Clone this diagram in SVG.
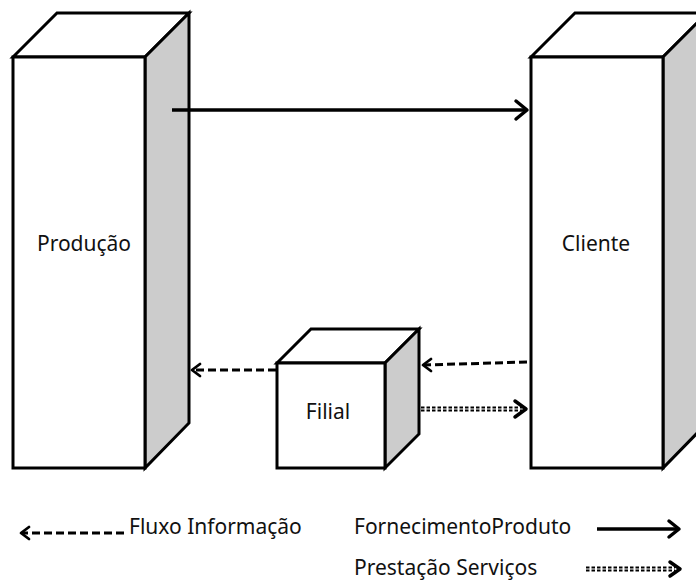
<svg xmlns="http://www.w3.org/2000/svg" width="696" height="582" viewBox="0 0 696 582">
<style>
.face{fill:#fff;stroke:#000;stroke-width:3;stroke-linejoin:miter}
.side{fill:#cccccc;stroke:#000;stroke-width:3;stroke-linejoin:miter}
.lbl{font-family:"Noto Sans","Open Sans","Liberation Sans",sans-serif;font-size:21px;fill:#111}
.solid{stroke:#000;stroke-width:3.5;fill:none}
.dash{stroke:#000;stroke-width:3;fill:none;stroke-dasharray:8,4}
.dotted{stroke:#000;stroke-width:5;fill:none;stroke-dasharray:3.5,2}
.dotgap{stroke:#fff;stroke-width:1.2;fill:none}
.head{stroke:#000;stroke-width:3.5;fill:none;stroke-linecap:round;stroke-linejoin:round}
.headthin{stroke:#000;stroke-width:2.8;fill:none;stroke-linecap:round;stroke-linejoin:round}
</style>
<rect width="696" height="582" fill="#fff"/>
<g id="producao">
<polygon class="face" points="13,57 57,13 189,13 145,57"/>
<polygon class="side" points="145,57 189,13 189,423 145,468"/>
<rect class="face" x="13" y="57" width="132" height="411"/>
<text class="lbl" x="84" y="251" text-anchor="middle">Produção</text>
</g>
<g id="cliente">
<polygon class="face" points="531,57 575,13 707,13 663,57"/>
<polygon class="side" points="663,57 707,13 707,423 663,468"/>
<rect class="face" x="531" y="57" width="132" height="411"/>
<text class="lbl" x="596" y="251" text-anchor="middle">Cliente</text>
</g>
<g id="filial">
<polygon class="face" points="277,363 311,329 419,329 385,363"/>
<polygon class="side" points="385,363 419,329 419,434 385,468"/>
<rect class="face" x="277" y="363" width="108" height="105"/>
<text class="lbl" x="328" y="419" text-anchor="middle">Filial</text>
</g>
<g id="connectors">
<line class="solid" x1="172" y1="110" x2="527" y2="110"/>
<polyline class="head" points="516,101 527,110 516,119"/>
<line class="dash" x1="527" y1="362" x2="424" y2="365"/>
<polyline class="headthin" points="431,359 423,365 431,371"/>
<line class="dash" x1="276" y1="370" x2="192" y2="370"/>
<polyline class="headthin" points="200,364 192,370 200,376"/>
<line class="dotted" x1="421" y1="409" x2="522" y2="409"/>
<line class="dotgap" x1="421" y1="409" x2="522" y2="409"/>
<polyline class="head" points="515,401 526,409 515,417"/>
</g>
<g id="legend">
<line class="dash" x1="124" y1="533" x2="22" y2="533"/>
<polyline class="headthin" points="29,527 21,533 29,539"/>
<text class="lbl" x="129" y="534">Fluxo Informação</text>
<text class="lbl" x="354" y="534">FornecimentoProduto</text>
<line class="solid" x1="597" y1="529" x2="679" y2="529"/>
<polyline class="head" points="669,521 679,529 669,537"/>
<text class="lbl" x="354" y="575">Prestação Serviços</text>
<line class="dotted" x1="586" y1="569" x2="675" y2="569"/>
<line class="dotgap" x1="586" y1="569" x2="675" y2="569"/>
<polyline class="head" points="670,562 680,569 670,576"/>
</g>
</svg>
